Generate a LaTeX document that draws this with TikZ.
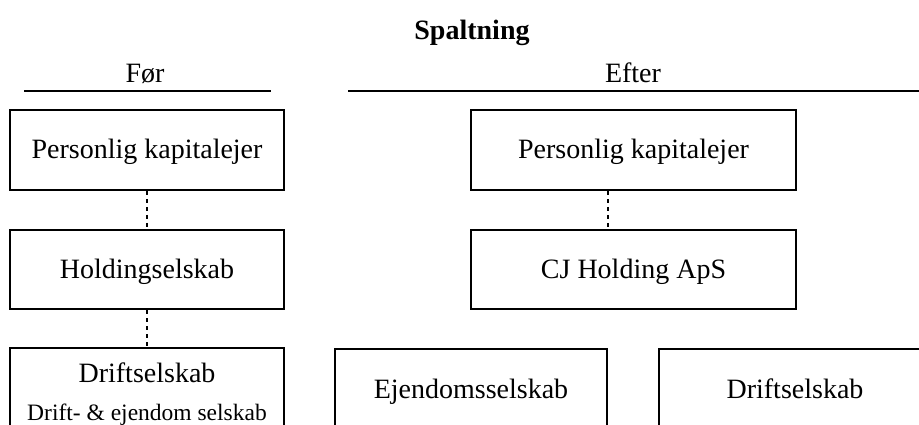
\documentclass[tikz,border=0pt]{standalone}
\usepackage{fontspec}
\setmainfont{Liberation Serif}
\begin{document}
\begin{tikzpicture}[x=1pt,y=-1pt,
  mainfont/.style={font=\fontsize{28}{34}\selectfont},
  smallfont/.style={font=\fontsize{23.5}{28}\selectfont},
  box/.style={draw, line width=2pt, rectangle, inner sep=0pt, mainfont, text height=24pt, text depth=6pt},
  frame/.style={draw, line width=2pt, rectangle, inner sep=0pt},
  txt/.style={inner sep=0pt, anchor=base},
  rule/.style={line width=2pt},
  dotline/.style={line width=2.5pt, dash pattern=on 4pt off 4pt}]
\useasboundingbox (0,0) rectangle (919,425);
\clip (0,0) rectangle (919,425);
% headings
\node[txt, font=\fontsize{28}{34}\selectfont\bfseries] (title) at (472,40) {Spaltning};
\node[txt, mainfont] (foer) at (145,83) {Før};
\node[txt, mainfont] (efter) at (633,83) {Efter};
\coordinate (fl) at (24,91); \coordinate (fr) at (271,91);
\coordinate (el) at (348,91); \coordinate (er) at (925,91);
\draw[rule] (fl) -- (fr);
\draw[rule] (el) -- (er);
% before
\node[box, minimum width=274pt, minimum height=80pt] (p1) at (147,150) {Personlig kapitalejer};
\node[box, minimum width=274pt, minimum height=79pt] (h1) at (147,269.5) {Holdingselskab};
\node[frame, minimum width=274pt, minimum height=112pt] (d1) at (147,404) {};
\node[txt, mainfont] (d1t) at (147,382) {Driftselskab};
\node[txt, smallfont] (d1s) at (147,420) {Drift- \& ejendom selskab};
% after
\node[box, minimum width=325pt, minimum height=80pt] (p2) at (633.5,150) {Personlig kapitalejer};
\node[box, minimum width=325pt, minimum height=79pt] (cj) at (633.5,269.5) {CJ Holding ApS};
\node[frame, minimum width=272pt, minimum height=112pt] (e2) at (471,405) {};
\node[txt, mainfont] (e2t) at (471,398) {Ejendomsselskab};
\node[frame, minimum width=272pt, minimum height=112pt] (d2) at (795,405) {};
\node[txt, mainfont] (d2t) at (795,398) {Driftselskab};
% connectors
\draw[dotline] (p1.south) -- (h1.north);
\draw[dotline] (h1.south) -- (d1.north);
\draw[dotline] (p2.south -| e2.east) -- (cj.north -| e2.east);
\end{tikzpicture}
\end{document}
